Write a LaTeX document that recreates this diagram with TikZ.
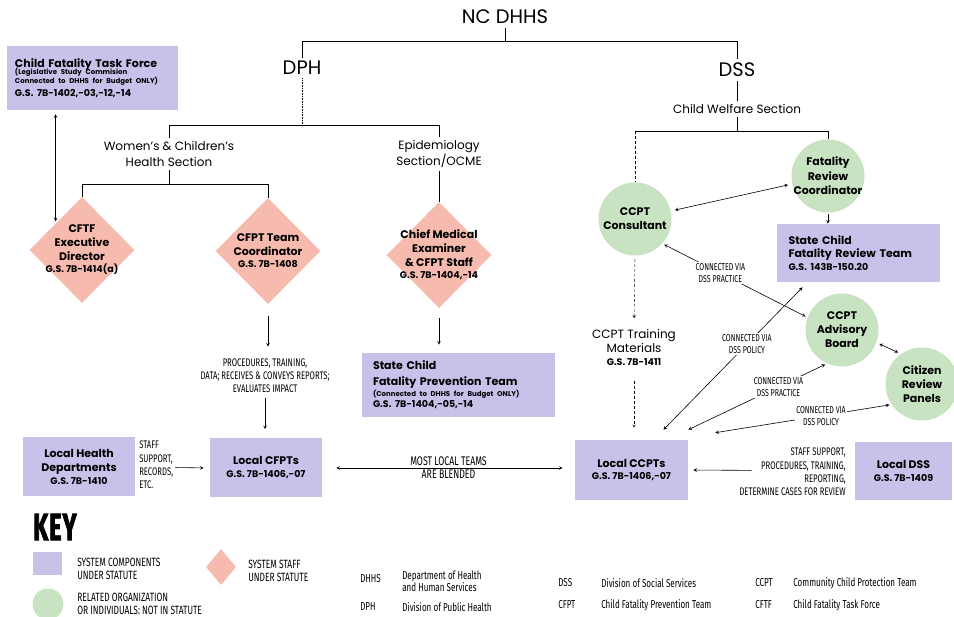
\documentclass[tikz,border=0pt]{standalone}
\usepackage{fontspec}
\setmainfont{Poppins}
\newfontfamily\condfont[FakeStretch=0.7]{Fira Sans}
\newfontfamily\keyfont[FakeStretch=0.62, FakeBold=2]{Fira Sans}
\usetikzlibrary{shapes.geometric}

\definecolor{boxpurple}{HTML}{C9C1EA}
\definecolor{staffpink}{HTML}{F6BAAE}
\definecolor{orggreen}{HTML}{C8E3C2}

\newcommand\boxfont{\fontsize{11}{14}\selectfont\bfseries}
\newcommand\gsfont{\fontsize{9.5}{11}\selectfont\bfseries}
\newcommand\notefont{\fontsize{7}{8}\selectfont\bfseries}
\newcommand\capsfont{\condfont\fontsize{11}{13.2}\selectfont}

\tikzset{
  sysbox/.style={rectangle, fill=boxpurple, inner sep=0pt, align=center, font=\boxfont},
  staff/.style={diamond, fill=staffpink, inner sep=0pt, minimum width=105pt, minimum height=106pt},
  stafftext/.style={align=center, font=\boxfont, inner sep=0pt},
  relorg/.style={circle, fill=orggreen, inner sep=-5pt, minimum size=73pt, align=center, font=\boxfont},
  orgtitle/.style={font=\fontsize{19.5}{22}\selectfont},
  sectiontext/.style={font=\fontsize{12}{16}\selectfont, align=center},
  capslabel/.style={font=\capsfont, align=center, inner sep=1pt},
  vialabel/.style={font=\condfont\fontsize{10}{12}\selectfont, align=center, fill=white, inner sep=1.5pt},
  keytext/.style={font=\condfont\fontsize{12}{13}\selectfont, align=left, anchor=west, inner sep=0pt},
  abbrev/.style={font=\condfont\fontsize{11.5}{12}\selectfont, align=left, anchor=west, inner sep=0pt},
}

\begin{document}
\begin{tikzpicture}[x=1pt, y=-1pt, line width=0.6pt, >=stealth]
\useasboundingbox (0,0) rectangle (954,617);

% departments
\node[orgtitle] (dhhs) at (505,17) {NC DHHS};
\node[orgtitle] (dph) at (302,68) {DPH};
\node[orgtitle] (dss) at (737,70) {DSS};
\coordinate (topbar) at (505,41);
\draw (dhhs.south) -- (dhhs.south |- topbar);
\draw (dph.north) -- (dph.north |- topbar) -- (dss.north |- topbar) -- (dss.north);

% DPH sections
\node[sectiontext] (wchs) at (169,154) {Women's \& Children's\\Health Section};
\node[sectiontext] (epi) at (439,154) {Epidemiology\\Section/OCME};
\coordinate (dphbar) at (302,125);
\draw[densely dotted] (dph.south) -- (dphbar);
\draw (wchs.north) -- (wchs.north |- dphbar) -- (epi.north |- dphbar) -- (epi.north);

% staff under statute
\node[staff, label={[stafftext]center:{CFTF\\Executive\\Director\\[-2pt]{\gsfont G.S. 7B-1414(a)}}}] (cftfdir) at (82,250) {};
\node[staff, label={[stafftext]center:{CFPT Team\\Coordinator\\[-2pt]{\gsfont G.S. 7B-1408}}}] (cfptcoord) at (268,251) {};
\node[staff, label={[stafftext]center:{Chief Medical\\Examiner\\\& CFPT Staff\\[-2pt]{\gsfont G.S. 7B-1404,-14}}}] (cme) at (439,255) {};
\coordinate (wchsbar) at (172,184);
\draw (wchs.south) -- (wchs.south |- wchsbar);
\draw (cftfdir.north) -- (cftfdir.north |- wchsbar) -- (cfptcoord.north |- wchsbar) -- (cfptcoord.north);
\draw (epi.south) -- (cme.north);

% system components
\node[sysbox, minimum width=171pt, minimum height=64pt, text width=155pt, align=left] (cftf) at (92.5,78) {Child Fatality Task Force\\[-3.5pt]{\notefont (Legislative Study Commision\\[-5pt]Connected to DHHS for Budget ONLY)}\\[-1pt]{\gsfont G.S. 7B-1402,-03,-12,-14}};
\node[sysbox, minimum width=193pt, minimum height=64pt, text width=171pt, align=left] (statecfpt) at (458.5,385) {State Child\\[2pt]Fatality Prevention Team\\[-3pt]{\notefont (Connected to DHHS for Budget ONLY)}\\[-3pt]{\gsfont G.S. 7B-1404,-05,-14}};
\node[sysbox, minimum width=163pt, minimum height=58pt, text width=140pt, align=left] (scfrt) at (858.5,253) {State Child\\[-1pt]Fatality Review Team\\[-1pt]{\gsfont G.S. 143B-150.20}};
\node[sysbox, minimum width=112pt, minimum height=59pt] (lhd) at (79,467) {Local Health\\Departments\\[-1pt]{\gsfont G.S. 7B-1410}};
\node[sysbox, minimum width=112pt, minimum height=59pt] (lcfpt) at (266,468) {Local CFPTs\\[-1pt]{\gsfont G.S. 7B-1406,-07}};
\node[sysbox, minimum width=113pt, minimum height=60pt] (lccpt) at (631.5,470) {Local CCPTs\\[-2pt]{\gsfont G.S. 7B-1406,-07}};
\node[sysbox, minimum width=97pt, minimum height=58pt] (ldss) at (903.5,471) {Local DSS\\[-1pt]{\gsfont G.S. 7B-1409}};

% related organizations
\node[relorg] (frc) at (828,176) {Fatality\\[0.5pt]Review\\[0.5pt]Coordinator};
\node[relorg] (ccptcons) at (635,219) {CCPT\\Consultant};
\node[relorg] (ccptadv) at (842,330) {CCPT\\Advisory\\Board};
\node[relorg] (citizen) at (922,384) {Citizen\\Review\\Panels};

% DSS section
\node[sectiontext] (cws) at (737,109) {Child Welfare Section};
\coordinate (cwsbar) at (737,131);
\draw (dss.south) -- (cws.north);
\draw (cws.south) -- (cwsbar);
\draw (ccptcons.north |- cwsbar) -- (frc.north |- cwsbar) -- (frc.north);
\draw[densely dashed, line width=0.4pt] (ccptcons.north |- cwsbar) -- (ccptcons.north);
\node[sectiontext, font=\fontsize{12}{14}\selectfont] (training) at (634,347) {CCPT Training\\Materials\\[-1pt]{\gsfont G.S. 7B-1411}};

% arrow labels
\node[capslabel] (procs) at (265,376) {PROCEDURES, TRAINING,\\DATA; RECEIVES \& CONVEYS REPORTS;\\EVALUATES IMPACT};
\node[capslabel, align=left, anchor=west] (staffsup) at (138,465) {STAFF\\SUPPORT,\\RECORDS,\\ETC.};
\node[capslabel, align=right, anchor=east] (dsssup) at (847,472) {STAFF SUPPORT,\\PROCEDURES, TRAINING,\\REPORTING,\\DETERMINE CASES FOR REVIEW};

% DPH arrows
\draw[<->, shorten <=4pt, shorten >=2pt] (cftfdir.north west |- cftf.south) -- (cftfdir.north west);
\draw[->, shorten <=12pt, shorten >=11pt] (cfptcoord.south) -- (cfptcoord.south |- procs.north);
\draw[->, shorten <=4pt, shorten >=9pt] (procs.south) -- (procs.south |- lcfpt.north);
\draw[->, shorten <=10pt, shorten >=8pt] (cme.south) -- (cme.south |- statecfpt.north);
\draw[->, shorten <=40pt, shorten >=6pt] (lhd.east) -- (lcfpt.west);
\draw[<->, shorten <=14pt, shorten >=12pt] (lcfpt.east) -- node[capslabel, font=\condfont\fontsize{12.5}{14}\selectfont, above=1pt] (blendtop) {MOST LOCAL TEAMS} node[capslabel, font=\condfont\fontsize{12.5}{14}\selectfont, below=1pt] (blendbot) {ARE BLENDED} (lcfpt.east -| lccpt.west);

% DSS arrows
\draw[->, shorten <=103pt, shorten >=5pt] (ldss.west) -- (lccpt.east);
\draw[<->, shorten <=4pt, shorten >=4pt] (ccptcons) -- (frc);
\draw[->, shorten <=1pt] (frc.south) -- (frc.south |- scfrt.north);
\draw[->, densely dashed, line width=0.4pt, shorten <=3pt, shorten >=7pt] (ccptcons.south) -- (training.north);
\draw[->, densely dashed, line width=0.4pt, shorten <=12pt, shorten >=12pt] (training.south) -- (training.south |- lccpt.north);
\draw[<->, shorten <=2pt, shorten >=2pt] (ccptcons.-42) -- node[vialabel, pos=0.4] (viapractice) {CONNECTED VIA\\DSS PRACTICE} (ccptadv.160);
\draw[<->] ([xshift=32pt, yshift=10pt]lccpt.north) -- node[vialabel, pos=0.6] (viapolicy) {CONNECTED VIA\\DSS POLICY} ([xshift=-56pt, yshift=-5pt]scfrt.south);
\draw[<->, shorten >=2pt] ([yshift=10pt]lccpt.north east) -- node[vialabel, pos=0.65] (viapractice2) {CONNECTED VIA\\DSS PRACTICE} (ccptadv.-114);
\draw[<->, shorten >=2pt] ([xshift=27pt, yshift=7pt]lccpt.north east) -- node[vialabel, pos=0.6] (viapolicy2) {CONNECTED VIA\\DSS POLICY} (citizen.-146);
\draw[<->, shorten <=3pt, shorten >=3pt] (ccptadv.-20) -- (citizen.125);

% key
\node[font=\keyfont\fontsize{38}{38}\selectfont\bfseries, anchor=west, inner sep=0pt] (keytitle) at (33,527) {K\kern1pt E\kern1pt Y};
\node[sysbox, minimum width=29pt, minimum height=23pt] (keysys) at (47.5,563.5) {};
\node[keytext] (keysystxt) at (77,568.5) {SYSTEM COMPONENTS\\UNDER STATUTE};
\node[relorg, inner sep=0pt, minimum size=31pt] (keyorg) at (48,604) {};
\node[keytext] (keyorgtxt) at (77,603.5) {RELATED ORGANIZATION\\OR INDIVIDUALS: NOT IN STATUTE};
\node[staff, minimum width=30pt, minimum height=36pt] (keystaff) at (221,567) {};
\node[keytext] (keystafftxt) at (248,570.5) {SYSTEM STAFF\\UNDER STATUTE};

\node[abbrev] (abdhhs) at (360,579) {DHHS};
\node[abbrev] (dedhhs) at (402,581) {Department of Health\\and Human Services};
\node[abbrev] (abdph) at (360,607) {DPH};
\node[abbrev] (dedph) at (402,607) {Division of Public Health};
\node[abbrev] (abdss) at (558,583) {DSS};
\node[abbrev] (dedss) at (601,583) {Division of Social Services};
\node[abbrev] (abcfpt) at (558,605) {CFPT};
\node[abbrev] (decfpt) at (601,605) {Child Fatality Prevention Team};
\node[abbrev] (abccpt) at (755,583) {CCPT};
\node[abbrev] (deccpt) at (793,583) {Community Child Protection Team};
\node[abbrev] (abcftf) at (755,605) {CFTF};
\node[abbrev] (decftf) at (793,605) {Child Fatality Task Force};
\end{tikzpicture}
\end{document}
